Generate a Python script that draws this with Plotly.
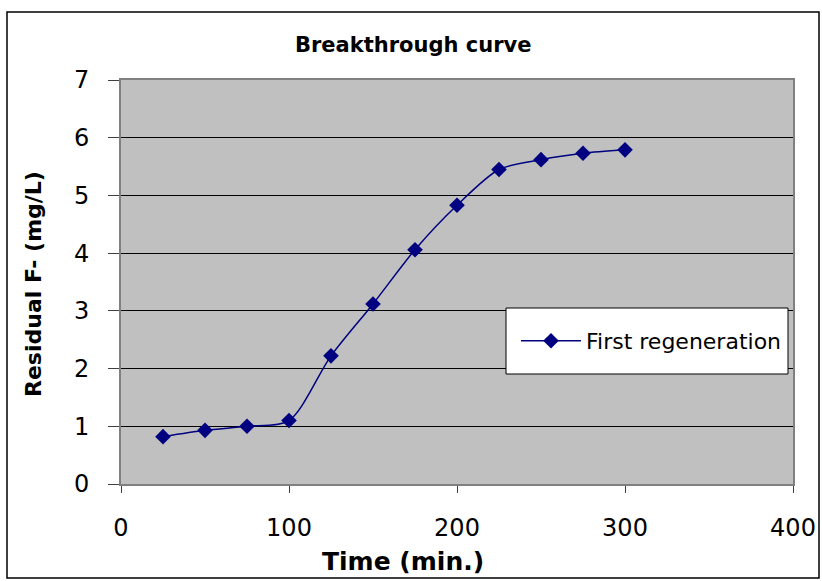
import plotly.graph_objects as go

# Breakthrough data: time (min) vs residual fluoride (mg/L)
time_min = [25, 50, 75, 100, 125, 150, 175, 200, 225, 250, 275, 300]
residual_f = [0.82, 0.93, 1.00, 1.10, 2.22, 3.12, 4.06, 4.83, 5.45, 5.62, 5.73, 5.79]
x_ticks = [0, 100, 200, 300, 400]
y_ticks = [0, 1, 2, 3, 4, 5, 6, 7]

W, H = 822, 581
L, R, T, B = 121, 29, 80, 97
pw, ph = W - L - R, H - T - B

def px(x):
    return (x - L) / pw

def py(y):
    return (H - B - y) / ph

FONT = "DejaVu Sans, Verdana, sans-serif"
NAVY = "#000080"

fig = go.Figure()
fig.add_trace(go.Scatter(
    x=time_min, y=residual_f, mode="lines+markers", name="First regeneration",
    line=dict(color=NAVY, width=1.5, shape="spline", smoothing=0.8),
    marker=dict(symbol="diamond", size=12, color=NAVY, line=dict(width=0)),
))

fig.update_layout(
    width=W, height=H, margin=dict(l=L, r=R, t=T, b=B, autoexpand=False),
    paper_bgcolor="white", plot_bgcolor="#C0C0C0",
    font=dict(family=FONT, color="black"),
    showlegend=True,
    legend=dict(x=px(516), y=py(341), xanchor="left", yanchor="middle",
                bgcolor="rgba(0,0,0,0)", borderwidth=0, itemwidth=60,
                font=dict(size=22, family=FONT)),
    xaxis=dict(range=[0, 400], tickvals=x_ticks, showgrid=False, zeroline=False,
               automargin=False,
               showline=True, linecolor="#808080", linewidth=2, mirror=True,
               ticks="outside", ticklen=7, tickcolor="#404040", tickwidth=1,
               tickfont=dict(size=24), ticklabelstandoff=14),
    yaxis=dict(range=[0, 7], tickvals=y_ticks, showgrid=True, gridcolor="black",
               gridwidth=1, zeroline=False, automargin=False,
               showline=True, linecolor="#808080", linewidth=2, mirror=True,
               ticks="outside", ticklen=11, tickcolor="#404040", tickwidth=1,
               tickfont=dict(size=24), ticklabelstandoff=14),
    annotations=[
        dict(text="<b>Breakthrough curve</b>", x=px(413), y=py(45), xref="paper", yref="paper",
             showarrow=False, font=dict(size=21), xanchor="center", yanchor="middle"),
        dict(text="<b>Time (min.)</b>", x=px(403), y=py(561), xref="paper", yref="paper",
             showarrow=False, font=dict(size=25), xanchor="center", yanchor="middle"),
        dict(text="<b>Residual F- (mg/L)</b>", x=px(33), y=py(284), xref="paper", yref="paper",
             showarrow=False, font=dict(size=22), textangle=-90,
             xanchor="center", yanchor="middle"),
    ],
    shapes=[
        # outer chart frame
        dict(type="rect", xref="paper", yref="paper", x0=px(7), x1=px(819), y0=py(578), y1=py(12),
             line=dict(color="black", width=1.5), layer="below"),
        # legend box
        dict(type="rect", xref="paper", yref="paper", x0=px(506), x1=px(788), y0=py(374), y1=py(308),
             line=dict(color="black", width=1), fillcolor="white", layer="above"),
    ],
)

fig.write_html("out.html")
